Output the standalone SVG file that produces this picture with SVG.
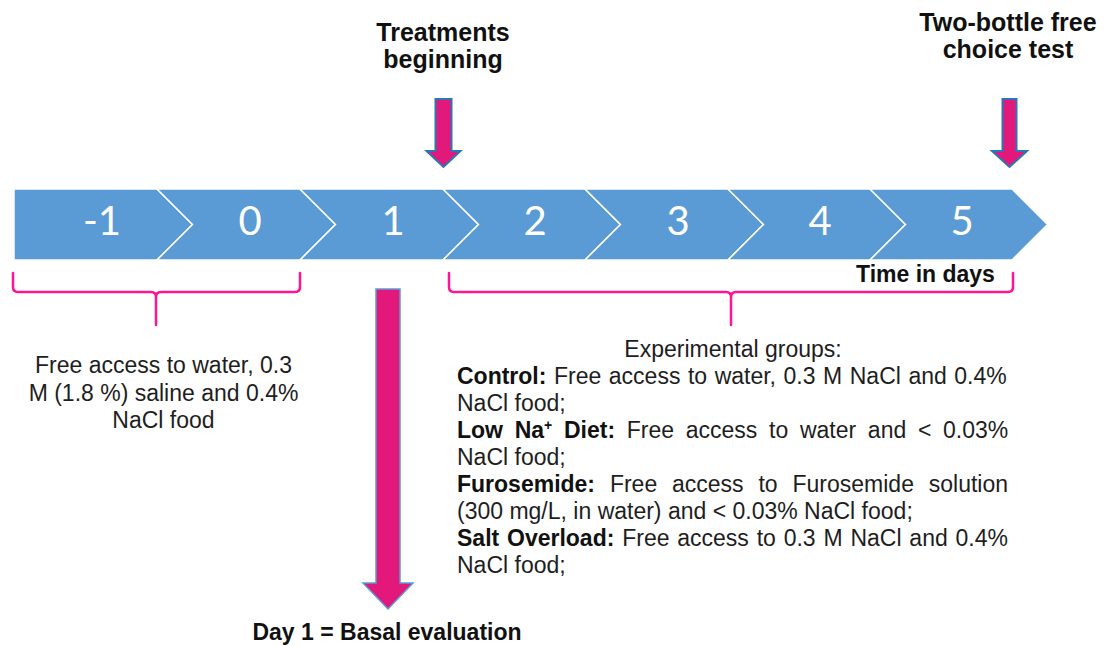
<svg xmlns="http://www.w3.org/2000/svg" width="1104" height="646" viewBox="0 0 1104 646">
<style>
.chev{fill:#5B9BD5;stroke:#FFFFFF;stroke-width:1.5;stroke-linejoin:miter}
.day{font-family:"Lato","Open Sans","Liberation Sans",sans-serif;font-size:40px;fill:#FFFFFF;text-anchor:middle}
.title{font-family:"Liberation Sans",Arial,sans-serif;font-weight:bold;font-size:25px;fill:#111111;text-anchor:middle}
.lbl{font-family:"Liberation Sans",Arial,sans-serif;font-weight:bold;font-size:23px;fill:#111111}
.body{font-family:"Liberation Sans",Arial,sans-serif;font-size:23px;fill:#1E1E1E}
.b{font-weight:bold;fill:#111111}
.brace{fill:none;stroke:#FF1493;stroke-width:2.5;stroke-linecap:round;stroke-linejoin:round}
.arrow{fill:#E2187B;stroke:#2E75B6;stroke-width:2;stroke-linejoin:miter}
.arrowbig{fill:#E2187B;stroke:#5B9BD5;stroke-width:1.5;stroke-linejoin:miter}
</style>
<rect width="1104" height="646" fill="#FFFFFF"/>

<g id="timeline">
  <g id="day-m1"><polygon class="chev" points="14,189 157,189 192.5,224.5 157,260 14,260"/><text class="day" x="102" y="235">-1</text></g>
  <g id="day-0"><polygon class="chev" points="157,189 300,189 335.5,224.5 300,260 157,260 192.5,224.5"/><text class="day" x="250" y="235">0</text></g>
  <g id="day-1"><polygon class="chev" points="300,189 443,189 478.5,224.5 443,260 300,260 335.5,224.5"/><text class="day" x="393" y="235">1</text></g>
  <g id="day-2"><polygon class="chev" points="443,189 585,189 620.5,224.5 585,260 443,260 478.5,224.5"/><text class="day" x="535" y="235">2</text></g>
  <g id="day-3"><polygon class="chev" points="585,189 728,189 763.5,224.5 728,260 585,260 620.5,224.5"/><text class="day" x="678" y="235">3</text></g>
  <g id="day-4"><polygon class="chev" points="728,189 870,189 905.5,224.5 870,260 728,260 763.5,224.5"/><text class="day" x="820" y="235">4</text></g>
  <g id="day-5"><polygon class="chev" points="870,189 1012,189 1047.5,224.5 1012,260 870,260 905.5,224.5"/><text class="day" x="962" y="235">5</text></g>
</g>

<g id="time-label"><text class="lbl" x="856" y="282">Time in days</text></g>

<g id="title-treatments"><text class="title" x="443" y="41">Treatments</text><text class="title" x="443" y="68">beginning</text></g>
<g id="title-twobottle"><text class="title" x="1008" y="31">Two-bottle free</text><text class="title" x="1008" y="58">choice test</text></g>

<g id="connectors">
  <path class="brace" d="M13,273 V287 Q13,292 18,292 H151 Q156,292 156,297 V325 M156,297 Q156,292 161,292 H295 Q300,292 300,287 V273"/>
  <path class="brace" d="M449,273 V287 Q449,292 454,292 H726 Q731,292 731,297 V325 M731,297 Q731,292 736,292 H1008 Q1013,292 1013,287 V273"/>
  <polygon class="arrow" points="435.5,99 451.5,99 451.5,151 460.5,151 443.5,167 426.5,151 435.5,151"/>
  <polygon class="arrow" points="1002.5,99 1016.5,99 1016.5,151 1027,151 1009.5,167 992,151 1002.5,151"/>
  <polygon class="arrowbig" points="376,289 400,289 400,583 413,583 388,609 363,583 376,583"/>
</g>

<g id="pre-treatment">
  <text class="body" text-anchor="middle" x="163.5" y="373">Free access to water, 0.3</text>
  <text class="body" text-anchor="middle" x="163.5" y="401">M (1.8 %) saline and 0.4%</text>
  <text class="body" text-anchor="middle" x="163.5" y="428">NaCl food</text>
</g>

<g id="groups">
  <text class="body" text-anchor="middle" x="733" y="357">Experimental groups:</text>
  <text class="body" x="457" y="384" word-spacing="1.15"><tspan class="b">Control:</tspan> Free access to water, 0.3 M NaCl and 0.4%</text>
  <text class="body" x="457" y="411">NaCl food;</text>
  <text class="body" x="457" y="438" word-spacing="5.3"><tspan class="b">Low Na</tspan><tspan class="b" font-size="14" dy="-8">+</tspan><tspan class="b" dy="8"> Diet:</tspan> Free access to water and &lt; 0.03%</text>
  <text class="body" x="457" y="465">NaCl food;</text>
  <text class="body" x="457" y="492" word-spacing="8.46"><tspan class="b">Furosemide:</tspan> Free access to Furosemide solution</text>
  <text class="body" x="457" y="519">(300 mg/L, in water) and &lt; 0.03% NaCl food;</text>
  <text class="body" x="457" y="546" word-spacing="1.42"><tspan class="b">Salt Overload:</tspan> Free access to 0.3 M NaCl and 0.4%</text>
  <text class="body" x="457" y="573">NaCl food;</text>
</g>

<g id="basal"><text class="lbl" text-anchor="middle" x="387" y="640">Day 1 = Basal evaluation</text></g>
</svg>
